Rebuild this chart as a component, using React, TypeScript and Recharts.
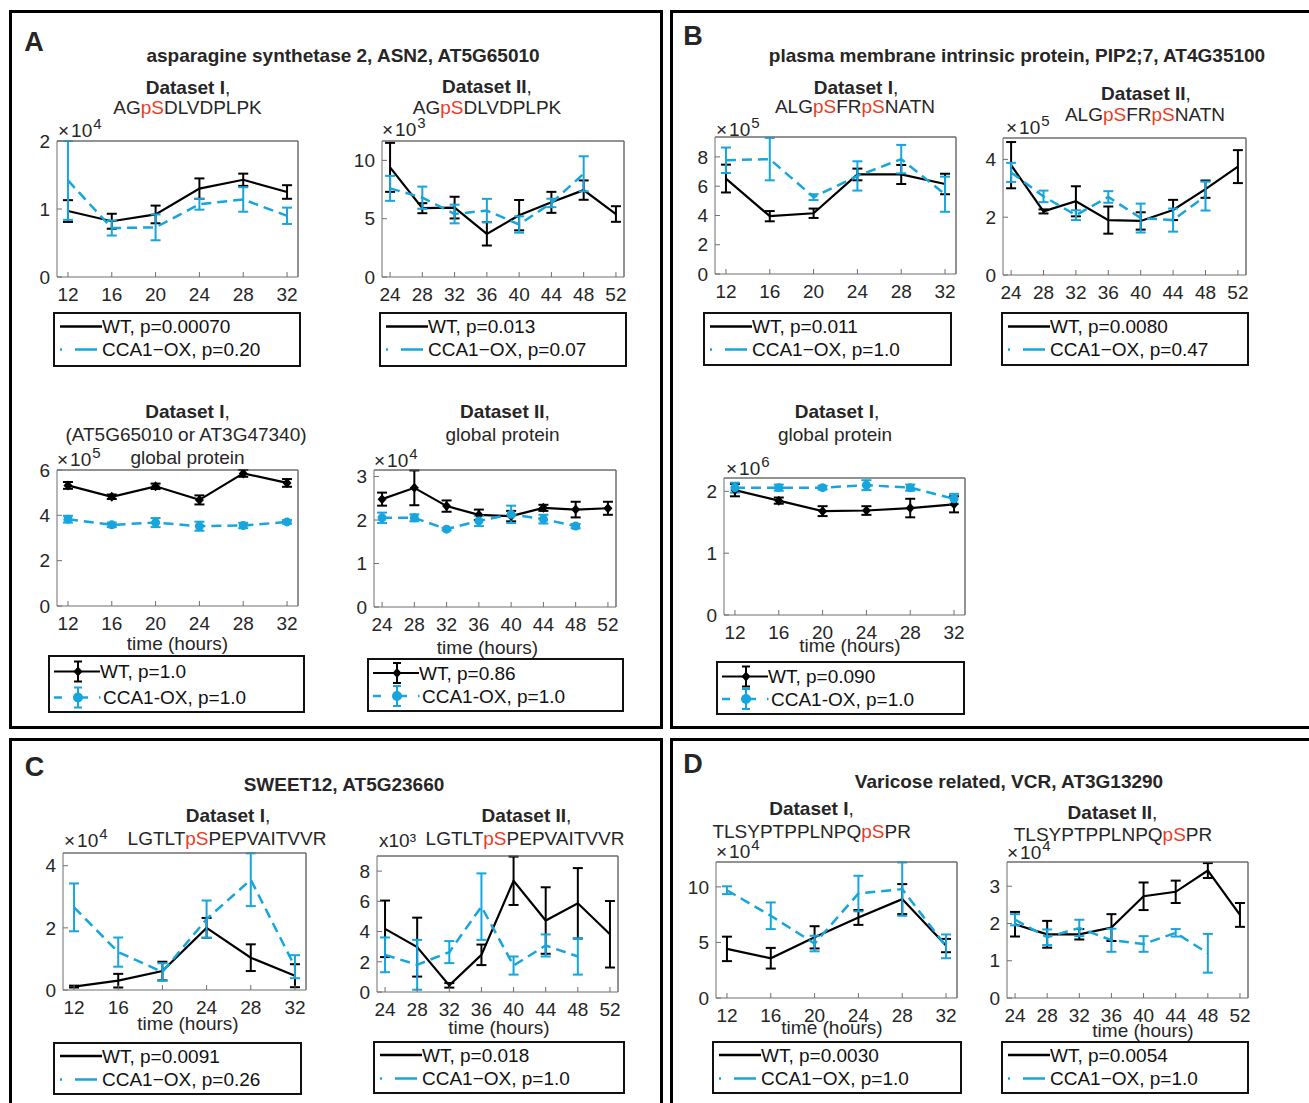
import type { ReactNode } from 'react'
import { LineChart, Line, XAxis, YAxis, ErrorBar, ReferenceLine } from 'recharts'

const FONT = '"Liberation Sans", Arial, Helvetica, sans-serif'
const INK = '#262626'
const AXIS = '#6f6f6f'
const CYAN = '#16a5dd'
const RED = '#ee3b24'

const HOURS_I = [12, 16, 20, 24, 28, 32]
const HOURS_II = [24, 28, 32, 36, 40, 44, 48, 52]

// A: asparagine synthetase 2, phosphopeptide, dataset I (x1e4)
const asnPepI_wt = [0.97, 0.82, 0.92, 1.3, 1.43, 1.25]
const asnPepI_wtErr = [0.16, 0.11, 0.13, 0.15, 0.09, 0.1]
const asnPepI_ox = [1.42, 0.72, 0.73, 1.07, 1.14, 0.9]
const asnPepI_oxErr = [0.58, 0.11, 0.19, 0.08, 0.18, 0.12]

// A: phosphopeptide, dataset II (x1e3)
const asnPepII_wt = [9.4, 5.9, 5.95, 3.7, 5.3, 6.4, 7.45, 5.4]
const asnPepII_wtErr = [2.1, 0.43, 0.93, 1.0, 1.3, 0.9, 0.83, 0.67]
const asnPepII_ox = [7.6, 6.8, 5.4, 5.7, 4.5, 6.35, 8.85, null]
const asnPepII_oxErr = [1.07, 0.95, 0.8, 1.0, 0.7, 0.36, 1.5, null]

// A: global protein, dataset I (x1e5)
const asnGlobI_wt = [5.32, 4.82, 5.28, 4.68, 5.85, 5.43]
const asnGlobI_wtErr = [0.15, 0.1, 0.12, 0.2, 0.15, 0.17]
const asnGlobI_ox = [3.83, 3.58, 3.68, 3.52, 3.55, 3.71]
const asnGlobI_oxErr = [0.15, 0.1, 0.2, 0.2, 0.12, 0.08]

// A: global protein, dataset II (x1e4)
const asnGlobII_wt = [2.48, 2.74, 2.32, 2.12, 2.09, 2.28, 2.24, 2.27]
const asnGlobII_wtErr = [0.15, 0.4, 0.13, 0.12, 0.12, 0.07, 0.18, 0.15]
const asnGlobII_ox = [2.05, 2.05, 1.79, 1.98, 2.13, 2.02, 1.86, null]
const asnGlobII_oxErr = [0.12, 0.08, 0.03, 0.12, 0.2, 0.1, 0.05, null]

// B: PIP2;7 phosphopeptide, dataset I (x1e5)
const pipPepI_wt = [6.52, 3.95, 4.15, 6.8, 6.8, 6.15]
const pipPepI_wtErr = [0.95, 0.35, 0.32, 0.4, 0.65, 0.7]
const pipPepI_ox = [7.77, 7.85, 5.25, 6.7, 7.85, 5.45]
const pipPepI_oxErr = [0.87, 1.45, 0.2, 1.0, 0.97, 1.2]

// B: phosphopeptide, dataset II (x1e5)
const pipPepII_wt = [3.8, 2.2, 2.55, 1.9, 1.87, 2.25, 2.97, 3.75]
const pipPepII_wtErr = [0.8, 0.07, 0.52, 0.47, 0.3, 0.35, 0.3, 0.57]
const pipPepII_ox = [3.55, 2.72, 2.07, 2.7, 1.97, 1.9, 2.73, null]
const pipPepII_oxErr = [0.33, 0.2, 0.17, 0.2, 0.5, 0.4, 0.5, null]

// B: global protein, dataset I (x1e6)
const pipGlobI_wt = [2.02, 1.85, 1.68, 1.69, 1.73, 1.79]
const pipGlobI_wtErr = [0.1, 0.05, 0.08, 0.07, 0.15, 0.13]
const pipGlobI_ox = [2.06, 2.06, 2.06, 2.1, 2.06, 1.88]
const pipGlobI_oxErr = [0.08, 0.05, 0.03, 0.08, 0.05, 0.08]

// C: SWEET12 phosphopeptide, dataset I (x1e4)
const sweetI_wt = [0.11, 0.3, 0.61, 2.0, 1.04, 0.46]
const sweetI_wtErr = [0.03, 0.22, 0.3, 0.32, 0.43, 0.37]
const sweetI_ox = [2.66, 1.22, 0.58, 2.28, 3.55, 0.75]
const sweetI_oxErr = [0.77, 0.47, 0.28, 0.6, 0.85, 0.37]

// C: dataset II (x1e3)
const sweetII_wt = [4.18, 2.97, 0.44, 2.46, 7.36, 4.73, 5.87, 3.82]
const sweetII_wtErr = [1.87, 1.95, 0.15, 0.68, 1.6, 2.2, 2.33, 2.2]
const sweetII_ox = [2.46, 1.8, 2.64, 5.65, 1.75, 3.08, 2.35, null]
const sweetII_oxErr = [1.15, 1.65, 0.73, 2.2, 0.6, 0.73, 1.2, null]

// D: VCR phosphopeptide, dataset I (x1e4)
const vcrI_wt = [4.42, 3.58, 5.46, 7.25, 8.9, 4.72]
const vcrI_wtErr = [1.1, 0.93, 1.0, 0.67, 1.35, 0.6]
const vcrI_ox = [9.7, 7.4, 4.9, 9.4, 9.8, 4.65]
const vcrI_oxErr = [0.35, 1.2, 0.7, 1.6, 2.4, 1.07]

// D: dataset II (x1e4)
const vcrII_wt = [1.98, 1.71, 1.71, 1.89, 2.73, 2.85, 3.42, 2.23]
const vcrII_wtErr = [0.33, 0.36, 0.14, 0.36, 0.37, 0.3, 0.2, 0.32]
const vcrII_ox = [2.1, 1.63, 1.88, 1.55, 1.45, 1.75, 1.2, null]
const vcrII_oxErr = [0.15, 0.21, 0.22, 0.31, 0.21, 0.1, 0.52, null]

type Num = number | null

interface PlotProps {
  left: number
  top: number
  w: number
  h: number
  hours: number[]
  yMax: number
  yTicks: number[]
  wt: number[]
  wtErr: number[]
  ox: Num[]
  oxErr: Num[]
  markers?: boolean
}

const ML = 50
const MT = 14
const MR = 8
const MB = 36

// eslint-disable-next-line @typescript-eslint/no-explicit-any
const diamondDot = (props: any) => {
  const { cx, cy, index } = props
  if (cx == null || cy == null) return <g key={`d${index}`} />
  return (
    <polygon
      key={`d${index}`}
      points={`${cx},${cy - 5} ${cx + 4.5},${cy} ${cx},${cy + 5} ${cx - 4.5},${cy}`}
      fill="#000"
    />
  )
}

// eslint-disable-next-line @typescript-eslint/no-explicit-any
const circleDot = (props: any) => {
  const { cx, cy, index } = props
  if (cx == null || cy == null) return <g key={`c${index}`} />
  return <circle key={`c${index}`} cx={cx} cy={cy} r={4.5} fill={CYAN} />
}

function Plot(p: PlotProps) {
  const rows = p.hours.map((x, i) => ({
    x,
    wt: p.wt[i],
    wtErr: p.wtErr[i],
    ox: p.ox[i] ?? undefined,
    oxErr: p.oxErr[i] ?? undefined,
  }))
  const xDomain: [number, number] = p.hours[0] === 12 ? [11, 33] : [23, 53]
  const tick = { fill: INK, fontSize: 19, fontFamily: FONT }
  return (
    <div style={{ position: 'absolute', left: p.left - ML, top: p.top - MT }}>
      <LineChart
        width={p.w + ML + MR}
        height={p.h + MT + MB}
        data={rows}
        margin={{ top: MT - 1, right: MR - 1, bottom: 0, left: 0 }}
      >
        <XAxis dataKey="x" type="number" domain={xDomain} ticks={p.hours} interval={0} height={MB}
          tickSize={-5} tickMargin={16} stroke={AXIS} tick={tick} allowDataOverflow />
        <XAxis xAxisId="top" orientation="top" type="number" domain={xDomain} ticks={p.hours} interval={0}
          height={1} tickSize={-5} stroke={AXIS} tick={false} allowDataOverflow />
        <YAxis type="number" domain={[0, p.yMax]} ticks={p.yTicks} interval={0} width={ML}
          tickSize={-5} tickMargin={12} stroke={AXIS} tick={tick} allowDataOverflow />
        <YAxis yAxisId="right" orientation="right" type="number" domain={[0, p.yMax]} ticks={p.yTicks}
          interval={0} width={1} tickSize={-5} stroke={AXIS} tick={false} allowDataOverflow />
        <ReferenceLine y={p.yMax} stroke={AXIS} />
        <ReferenceLine x={xDomain[1]} stroke={AXIS} />
        <Line dataKey="wt" type="linear" stroke="#000" strokeWidth={2.2} isAnimationActive={false}
          dot={p.markers ? diamondDot : false} activeDot={false}>
          <ErrorBar dataKey="wtErr" direction="y" width={5} stroke="#000" strokeWidth={2} />
        </Line>
        <Line dataKey="ox" type="linear" stroke={CYAN} strokeWidth={2.5} strokeDasharray="10 6"
          isAnimationActive={false} dot={p.markers ? circleDot : false} activeDot={false}>
          <ErrorBar dataKey="oxErr" direction="y" width={5} stroke={CYAN} strokeWidth={2} />
        </Line>
      </LineChart>
    </div>
  )
}

function Txt({ x, y, children, size = 19, bold = false }: { x: number; y: number; children: ReactNode; size?: number; bold?: boolean }) {
  return (
    <div style={{
      position: 'absolute', left: x, top: y, transform: 'translate(-50%, -50%)', whiteSpace: 'nowrap',
      fontSize: size, lineHeight: 1, fontWeight: bold ? 700 : 400, color: INK,
    }}>{children}</div>
  )
}

function Pep({ s }: { s: string }) {
  const parts = s.split('pS')
  return (
    <>
      {parts.map((t, i) => (
        <span key={i}>{t}{i < parts.length - 1 && <span style={{ color: RED }}>pS</span>}</span>
      ))}
    </>
  )
}

function Head({ x, y, name }: { x: number; y: number; name: string }) {
  return <Txt x={x} y={y}><b>{name}</b>,</Txt>
}

function Exp({ x, y, e }: { x: number; y: number; e: string }) {
  return (
    <div style={{ position: 'absolute', left: x, top: y - 10, lineHeight: '20px', fontSize: 19, color: INK, whiteSpace: 'nowrap' }}>
      <span style={{ marginRight: 2 }}>×</span>10<span style={{ position: 'relative', top: -8, fontSize: 15, marginLeft: 1 }}>{e}</span>
    </div>
  )
}

interface LegProps {
  left: number
  top: number
  w: number
  h: number
  wt: string
  ox: string
  r1: number
  r2: number
  markers?: boolean
}

function Leg(p: LegProps) {
  const tx = p.markers ? 52 : 49
  const row = (y: number, s: string, dx = 0) => (
    <div style={{ position: 'absolute', left: tx + dx, top: y - 9.5, fontSize: 19, lineHeight: '19px', color: '#111', whiteSpace: 'nowrap' }}>{s}</div>
  )
  const eb = (x: number, y: number, c: string) => (
    <g stroke={c} strokeWidth={2}>
      <line x1={x} x2={x} y1={y - 10} y2={y + 10} />
      <line x1={x - 4} x2={x + 4} y1={y - 10} y2={y - 10} />
      <line x1={x - 4} x2={x + 4} y1={y + 10} y2={y + 10} />
    </g>
  )
  return (
    <div style={{ position: 'absolute', left: p.left, top: p.top, width: p.w, height: p.h, background: '#fff' }}>
      <div style={{ position: 'absolute', inset: 0, border: '2px solid #111' }} />
      <svg width={60} height={p.h} style={{ position: 'absolute', left: 0, top: 0 }}>
        {p.markers ? (
          <>
            <line x1={6} x2={52} y1={p.r1} y2={p.r1} stroke="#000" strokeWidth={2.2} />
            {eb(30, p.r1, '#000')}
            <polygon points={`30,${p.r1 - 5} 34.5,${p.r1} 30,${p.r1 + 5} 25.5,${p.r1}`} fill="#000" />
            <line x1={6} x2={14} y1={p.r2} y2={p.r2} stroke={CYAN} strokeWidth={2.5} />
            <line x1={34} x2={40} y1={p.r2} y2={p.r2} stroke={CYAN} strokeWidth={2.5} />
            <line x1={51} x2={52.5} y1={p.r2} y2={p.r2} stroke={CYAN} strokeWidth={2.5} />
            {eb(30, p.r2, CYAN)}
            <circle cx={30} cy={p.r2} r={5} fill={CYAN} />
          </>
        ) : (
          <>
            <line x1={7} x2={49} y1={p.r1} y2={p.r1} stroke="#000" strokeWidth={2.5} />
            <line x1={7} x2={9} y1={p.r2} y2={p.r2} stroke={CYAN} strokeWidth={2.5} />
            <line x1={22} x2={44} y1={p.r2} y2={p.r2} stroke={CYAN} strokeWidth={2.5} />
          </>
        )}
      </svg>
      {row(p.r1, p.wt)}
      {row(p.r2, p.ox, p.markers ? 3 : 0)}
    </div>
  )
}

function Box({ left, top, w, h }: { left: number; top: number; w: number; h: number }) {
  return <div style={{ position: 'absolute', left, top, width: w, height: h, border: '3px solid #000', boxSizing: 'border-box' }} />
}

export default function App() {
  return (
    <div style={{ position: 'absolute', left: 0, top: 0, width: 1309, height: 1103, overflow: 'hidden', background: '#fff', fontFamily: FONT }}>
      <Box left={9} top={10} w={654} h={719} />
      <Box left={670} top={10} w={660} h={719} />
      <Box left={9} top={738} w={654} h={400} />
      <Box left={670} top={738} w={660} h={400} />

      <Txt x={34} y={42} size={27} bold>A</Txt>
      <Txt x={693} y={36} size={27} bold>B</Txt>
      <Txt x={34.5} y={767} size={27} bold>C</Txt>
      <Txt x={693} y={764} size={27} bold>D</Txt>

      {/* panel A */}
      <Txt x={343} y={55} bold>asparagine synthetase 2, ASN2, AT5G65010</Txt>
      <Head x={188} y={86.5} name="Dataset I" />
      <Txt x={187.5} y={107}><Pep s="AGpSDLVDPLPK" /></Txt>
      <Exp x={58} y={131} e="4" />
      <Plot left={57} top={141} w={241} h={136} hours={HOURS_I} yMax={2} yTicks={[0, 1, 2]}
        wt={asnPepI_wt} wtErr={asnPepI_wtErr} ox={asnPepI_ox} oxErr={asnPepI_oxErr} />
      <Leg left={53} top={312} w={248} h={55} r1={14.5} r2={37.5} wt="WT, p=0.00070" ox="CCA1−OX, p=0.20" />

      <Head x={487} y={86} name="Dataset II" />
      <Txt x={487} y={107}><Pep s="AGpSDLVDPLPK" /></Txt>
      <Exp x={382} y={130} e="3" />
      <Plot left={382} top={141} w={242} h={136} hours={HOURS_II} yMax={11.66} yTicks={[0, 5, 10]}
        wt={asnPepII_wt} wtErr={asnPepII_wtErr} ox={asnPepII_ox} oxErr={asnPepII_oxErr} />
      <Leg left={379} top={312} w={248} h={55} r1={14.5} r2={37.5} wt="WT, p=0.013" ox="CCA1−OX, p=0.07" />

      <Head x={187.5} y={411} name="Dataset I" />
      <Txt x={186} y={433.5}>(AT5G65010 or AT3G47340)</Txt>
      <Txt x={187.5} y={457}>global protein</Txt>
      <Exp x={57} y={460} e="5" />
      <Plot left={57} top={470} w={241} h={136} hours={HOURS_I} yMax={6} yTicks={[0, 2, 4, 6]} markers
        wt={asnGlobI_wt} wtErr={asnGlobI_wtErr} ox={asnGlobI_ox} oxErr={asnGlobI_oxErr} />
      <Txt x={177.5} y={643}>time (hours)</Txt>
      <Leg left={48} top={655} w={257} h={58} r1={16.5} r2={42.5} markers wt="WT, p=1.0" ox="CCA1-OX, p=1.0" />

      <Head x={505} y={410.5} name="Dataset II" />
      <Txt x={502.5} y={433.5}>global protein</Txt>
      <Exp x={374} y={461} e="4" />
      <Plot left={374} top={470} w={242} h={137} hours={HOURS_II} yMax={3.15} yTicks={[0, 1, 2, 3]} markers
        wt={asnGlobII_wt} wtErr={asnGlobII_wtErr} ox={asnGlobII_ox} oxErr={asnGlobII_oxErr} />
      <Txt x={487.5} y={647}>time (hours)</Txt>
      <Leg left={367} top={658} w={257} h={54} r1={15} r2={38} markers wt="WT, p=0.86" ox="CCA1-OX, p=1.0" />

      {/* panel B */}
      <Txt x={1017} y={55} bold>plasma membrane intrinsic protein, PIP2;7, AT4G35100</Txt>
      <Head x={856} y={86.5} name="Dataset I" />
      <Txt x={855} y={106}><Pep s="ALGpSFRpSNATN" /></Txt>
      <Exp x={716} y={130} e="5" />
      <Plot left={715} top={137} w={241} h={137} hours={HOURS_I} yMax={9.36} yTicks={[0, 2, 4, 6, 8]}
        wt={pipPepI_wt} wtErr={pipPepI_wtErr} ox={pipPepI_ox} oxErr={pipPepI_oxErr} />
      <Leg left={703} top={312} w={249} h={54} r1={14.5} r2={37.5} wt="WT, p=0.011" ox="CCA1−OX, p=1.0" />

      <Head x={1146} y={92.5} name="Dataset II" />
      <Txt x={1145} y={114}><Pep s="ALGpSFRpSNATN" /></Txt>
      <Exp x={1006} y={127.5} e="5" />
      <Plot left={1003} top={138} w={243} h={137} hours={HOURS_II} yMax={4.74} yTicks={[0, 2, 4]}
        wt={pipPepII_wt} wtErr={pipPepII_wtErr} ox={pipPepII_ox} oxErr={pipPepII_oxErr} />
      <Leg left={1001} top={312} w={248} h={54} r1={14.5} r2={37.5} wt="WT, p=0.0080" ox="CCA1−OX, p=0.47" />

      <Head x={837} y={411} name="Dataset I" />
      <Txt x={835} y={433.5}>global protein</Txt>
      <Exp x={726} y={469} e="6" />
      <Plot left={724} top={478} w={241} h={137} hours={HOURS_I} yMax={2.216} yTicks={[0, 1, 2]} markers
        wt={pipGlobI_wt} wtErr={pipGlobI_wtErr} ox={pipGlobI_ox} oxErr={pipGlobI_oxErr} />
      <Txt x={850} y={645}>time (hours)</Txt>
      <Leg left={716} top={661} w={249} h={54} r1={15.5} r2={38} markers wt="WT, p=0.090" ox="CCA1-OX, p=1.0" />

      {/* panel C */}
      <Txt x={344} y={784} bold>SWEET12, AT5G23660</Txt>
      <Head x={228} y={815} name="Dataset I" />
      <Txt x={227} y={837.5}><Pep s="LGTLTpSPEPVAITVVR" /></Txt>
      <Exp x={64} y={841} e="4" />
      <Plot left={63} top={853} w={243} h={137} hours={HOURS_I} yMax={4.41} yTicks={[0, 2, 4]}
        wt={sweetI_wt} wtErr={sweetI_wtErr} ox={sweetI_ox} oxErr={sweetI_oxErr} />
      <Txt x={188} y={1023}>time (hours)</Txt>
      <Leg left={53} top={1042} w={249} h={53} r1={14} r2={37.5} wt="WT, p=0.0091" ox="CCA1−OX, p=0.26" />

      <Head x={526.5} y={815} name="Dataset II" />
      <Txt x={525} y={837.5}><Pep s="LGTLTpSPEPVAITVVR" /></Txt>
      <div style={{ position: 'absolute', left: 379, top: 831, fontSize: 19, lineHeight: '19px', color: INK }}>x10³</div>
      <Plot left={377} top={856} w={241} h={136} hours={HOURS_II} yMax={9} yTicks={[0, 2, 4, 6, 8]}
        wt={sweetII_wt} wtErr={sweetII_wtErr} ox={sweetII_ox} oxErr={sweetII_oxErr} />
      <Txt x={499} y={1027}>time (hours)</Txt>
      <Leg left={373} top={1041} w={252} h={53} r1={14} r2={37.5} wt="WT, p=0.018" ox="CCA1−OX, p=1.0" />

      {/* panel D */}
      <Txt x={1009} y={780.5} bold>Varicose related, VCR, AT3G13290</Txt>
      <Head x={811.5} y={807.5} name="Dataset I" />
      <Txt x={811.7} y={830.5}><Pep s="TLSYPTPPLNPQpSPR" /></Txt>
      <Exp x={716} y={851.5} e="4" />
      <Plot left={716} top={862} w={241} h={136} hours={HOURS_I} yMax={12.24} yTicks={[0, 5, 10]}
        wt={vcrI_wt} wtErr={vcrI_wtErr} ox={vcrI_ox} oxErr={vcrI_oxErr} />
      <Txt x={832} y={1027}>time (hours)</Txt>
      <Leg left={712} top={1041} w={250} h={53} r1={14} r2={37.5} wt="WT, p=0.0030" ox="CCA1−OX, p=1.0" />

      <Head x={1112.5} y={811.5} name="Dataset II" />
      <Txt x={1113} y={834}><Pep s="TLSYPTPPLNPQpSPR" /></Txt>
      <Exp x={1007} y={852.5} e="4" />
      <Plot left={1007} top={862} w={241} h={136} hours={HOURS_II} yMax={3.65} yTicks={[0, 1, 2, 3]}
        wt={vcrII_wt} wtErr={vcrII_wtErr} ox={vcrII_ox} oxErr={vcrII_oxErr} />
      <Txt x={1143} y={1030}>time (hours)</Txt>
      <Leg left={1001} top={1041} w={248} h={53} r1={14} r2={37.5} wt="WT, p=0.0054" ox="CCA1−OX, p=1.0" />
    </div>
  )
}
